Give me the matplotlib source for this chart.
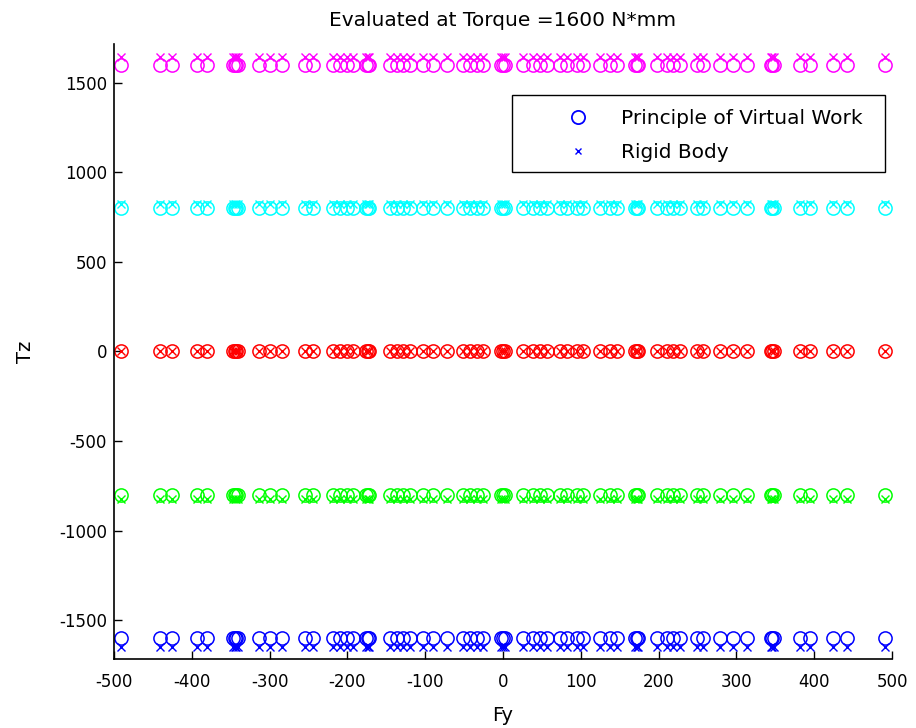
import matplotlib
matplotlib.use("Agg")
import matplotlib.pyplot as plt
from matplotlib.patches import Rectangle
import numpy as np

plt.rcParams['font.family'] = ['DejaVu Sans']
plt.rcParams['axes.unicode_minus'] = False

# Fy values (shared by all Tz rows)
fy = [-491, -441, -426, -394, -381, -347, -345, -343, -341, -314, -299, -284,
      -254, -244, -219, -210, -200, -193, -176, -174, -172, -145, -136, -129,
      -120, -103, -90, -72, -51, -42, -33, -26, -2, 0, 2, 26, 39, 48, 57, 73,
      82, 95, 103, 125, 138, 147, 170, 172, 174, 198, 211, 219, 228, 249, 257,
      279, 296, 314, 344, 346, 348, 382, 395, 424, 442, 491]

# Tz levels: Principle of Virtual Work and Rigid Body
tz_pvw = [1600, 800, 0, -800, -1600]
tz_rigid = [1645, 820, 0, -820, -1650]
colors = ['#ff00ff', '#00ffff', '#ff0000', '#00ff00', '#0000ff']

fig = plt.figure(figsize=(9.16, 7.28), dpi=100)
ax = fig.add_axes([0.1245, 0.0948, 0.8493, 0.8448])

fy_arr = np.array(fy)
for tp, tr, c in zip(tz_pvw, tz_rigid, colors):
    ax.plot(fy_arr, np.full(fy_arr.shape, tp), linestyle='none', marker='o',
            markersize=9.5, markerfacecolor='none', markeredgecolor=c,
            markeredgewidth=1.1)
    ax.plot(fy_arr, np.full(fy_arr.shape, tr), linestyle='none', marker='x',
            markersize=6, markeredgecolor=c, markeredgewidth=1.0)

# legend box
ax.add_patch(Rectangle((0.5116, 0.7919), 0.991 - 0.5116, 0.917 - 0.7919,
                       transform=ax.transAxes, facecolor='white',
                       edgecolor='black', linewidth=1.0, zorder=4))
h1, = ax.plot([], [], linestyle='none', marker='o', markersize=9.5,
              markerfacecolor='none', markeredgecolor='#0000ff',
              markeredgewidth=1.3, label='Principle of Virtual Work')
h2, = ax.plot([], [], linestyle='none', marker='x', markersize=5,
              markeredgecolor='#0000ff', markeredgewidth=1.0,
              label='Rigid Body')
leg = ax.legend(handles=[h1, h2], loc='upper left',
                bbox_to_anchor=(0.572, 0.8945), fontsize=14.5,
                frameon=False, borderpad=0.0, handletextpad=1.2,
                labelspacing=0.77, borderaxespad=0.0, handlelength=1.9)
leg.set_zorder(5)

ax.set_xlim(-500, 500)
ax.set_ylim(-1715, 1715)
ax.set_xticks(np.arange(-500, 501, 100))
ax.set_yticks(np.arange(-1500, 1501, 500))
ax.tick_params(direction='in', length=6, width=1, labelsize=12,
               colors='black')
ax.tick_params(axis='x', pad=10)
ax.tick_params(axis='y', pad=5)
ax.spines['top'].set_visible(False)
ax.spines['right'].set_visible(False)
ax.spines['left'].set_linewidth(1.2)
ax.spines['bottom'].set_linewidth(1.2)

ax.set_title('Evaluated at Torque =1600 N*mm', fontsize=14.5, pad=13)
ax.set_xlabel('Fy', fontsize=14, labelpad=11)
ax.set_ylabel('Tz', fontsize=14, labelpad=17)

fig.savefig('out.png', dpi=100, facecolor='white')
